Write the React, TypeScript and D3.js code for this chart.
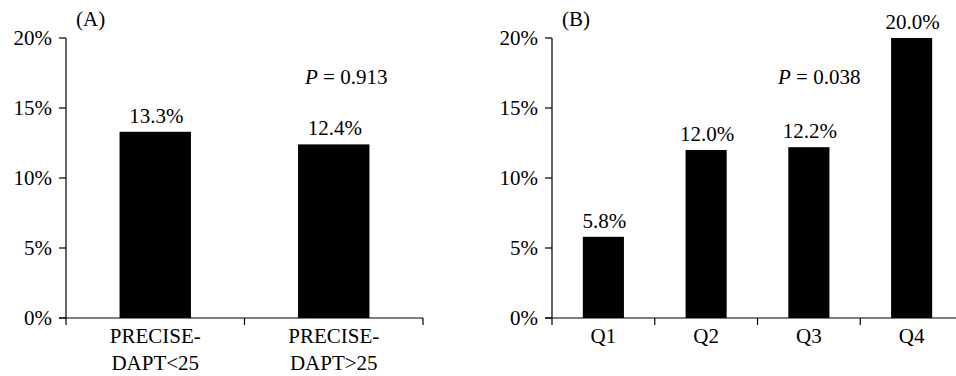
import React from 'react'
import * as d3 from 'd3'

const catsA = ['PRECISE-DAPT<25', 'PRECISE-DAPT>25']
const valuesA = [13.3, 12.4]
const catsB = ['Q1', 'Q2', 'Q3', 'Q4']
const valuesB = [5.8, 12.0, 12.2, 20.0]
const yTicks = [0, 5, 10, 15, 20]
const pA = '0.913'
const pB = '0.038'

const width = 956
const height = 376
const top = 38
const bottom = 318
const font = "'Liberation Serif', 'Times New Roman', Times, Tinos, 'DejaVu Serif', serif"
const fs = 21

const Panel = ({ x0, x1, cats, values, tag, p, pX }) => {
  const x = d3.scaleBand().domain(cats).range([x0, x1]).paddingInner(0.6).paddingOuter(0.3)
  const y = d3.scaleLinear().domain([0, 20]).range([bottom, top])
  const step = x.step()
  const edges = cats.map((c, i) => x0 + i * step).concat([x1])

  return (
    <g style={{ fontFamily: font, fontSize: fs }} fill="#000">
      <text x={x0 + 10} y={26}>{tag}</text>
      {cats.map((c, i) => (
        <rect key={c} x={x(c)} y={y(values[i])} width={x.bandwidth()}
          height={y(0) - y(values[i])} fill="#000" />
      ))}
      {cats.map((c, i) => (
        <text key={'v' + c} x={x(c) + x.bandwidth() / 2 + 1} y={y(values[i]) - 9}
          textAnchor="middle">{values[i].toFixed(1)}%</text>
      ))}
      <line x1={x0} x2={x0} y1={top} y2={bottom} stroke="#000" strokeWidth={1.2} />
      <line x1={x0 - 7} x2={x1} y1={bottom} y2={bottom} stroke="#000" strokeWidth={1.2} />
      {yTicks.map(t => (
        <g key={t}>
          <line x1={x0 - 7} x2={x0} y1={y(t)} y2={y(t)} stroke="#000" strokeWidth={1.2} />
          <text x={x0 - 14} y={y(t)} dy="0.34em" textAnchor="end">{t}%</text>
        </g>
      ))}
      {edges.map((e, i) => (
        <line key={i} x1={e} x2={e} y1={bottom} y2={bottom + 7} stroke="#000" strokeWidth={1.2} />
      ))}
      {cats.map(c => {
        const parts = c.includes('-') ? [c.slice(0, c.indexOf('-') + 1), c.slice(c.indexOf('-') + 1)] : [c]
        return (
          <text key={'l' + c} x={x(c) + x.bandwidth() / 2} y={343} textAnchor="middle">
            {parts.map((s, j) => (
              <tspan key={j} x={x(c) + x.bandwidth() / 2} dy={j === 0 ? 0 : 27}>{s}</tspan>
            ))}
          </text>
        )
      })}
      <text x={pX} y={84}>
        <tspan fontStyle="italic">P</tspan> = {p}
      </text>
    </g>
  )
}

const App = () => {
  return (
    <svg width={width} height={height} style={{ position: 'absolute', left: 0, top: 0, background: '#fff' }}>
      <rect width={width} height={height} fill="#fff" />
      <Panel x0={66} x1={423} cats={catsA} values={valuesA} tag="(A)" p={pA} pX={305} />
      <Panel x0={552} x1={963} cats={catsB} values={valuesB} tag="(B)" p={pB} pX={778} />
    </svg>
  )
}

export default App
